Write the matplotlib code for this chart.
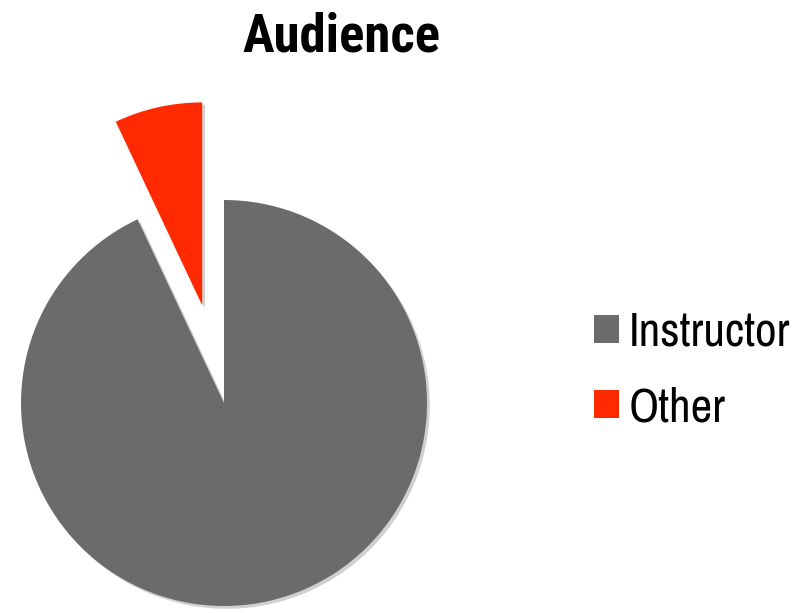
import matplotlib
matplotlib.use("Agg")
import matplotlib.pyplot as plt
import matplotlib.patheffects as pe

labels = ["Instructor", "Other"]
values = [93, 7]
colors = ["#6b6b6b", "#ff2a00"]
title = "Audience"

W, H = 807, 613
fig = plt.figure(figsize=(W / 100, H / 100), dpi=100)
ax = fig.add_axes([0, 0, 1, 1])

wedges, _ = ax.pie(values, colors=colors, startangle=90, counterclock=False,
                   center=(224, H - 403), radius=203, explode=[0, 100],
                   wedgeprops=dict(linewidth=0))
for w in wedges:
    w.set_path_effects([pe.SimplePatchShadow(offset=(2, -2), alpha=0.25, shadow_rgbFace="#444444"),
                        pe.Normal()])
ax.set_xlim(0, W)
ax.set_ylim(0, H)
ax.set_aspect("equal")
ax.axis("off")

fig.text(341 / W, 1 - 52 / H, title, ha="center", va="baseline",
         fontsize=38, fontweight="bold", family=["Roboto Condensed", "DejaVu Sans"])

leg = ax.legend(wedges, labels, loc="upper left", frameon=False,
                bbox_to_anchor=(594 / W, 1 - 311 / H), bbox_transform=fig.transFigure,
                prop=dict(family=["Archivo Narrow", "DejaVu Sans"], size=34),
                handlelength=0.53, handleheight=0.53,
                handletextpad=0.2, labelspacing=0.68, borderaxespad=0, borderpad=0)
for h in leg.legend_handles:
    h.set_path_effects([])

fig.savefig("out.png", dpi=100)
